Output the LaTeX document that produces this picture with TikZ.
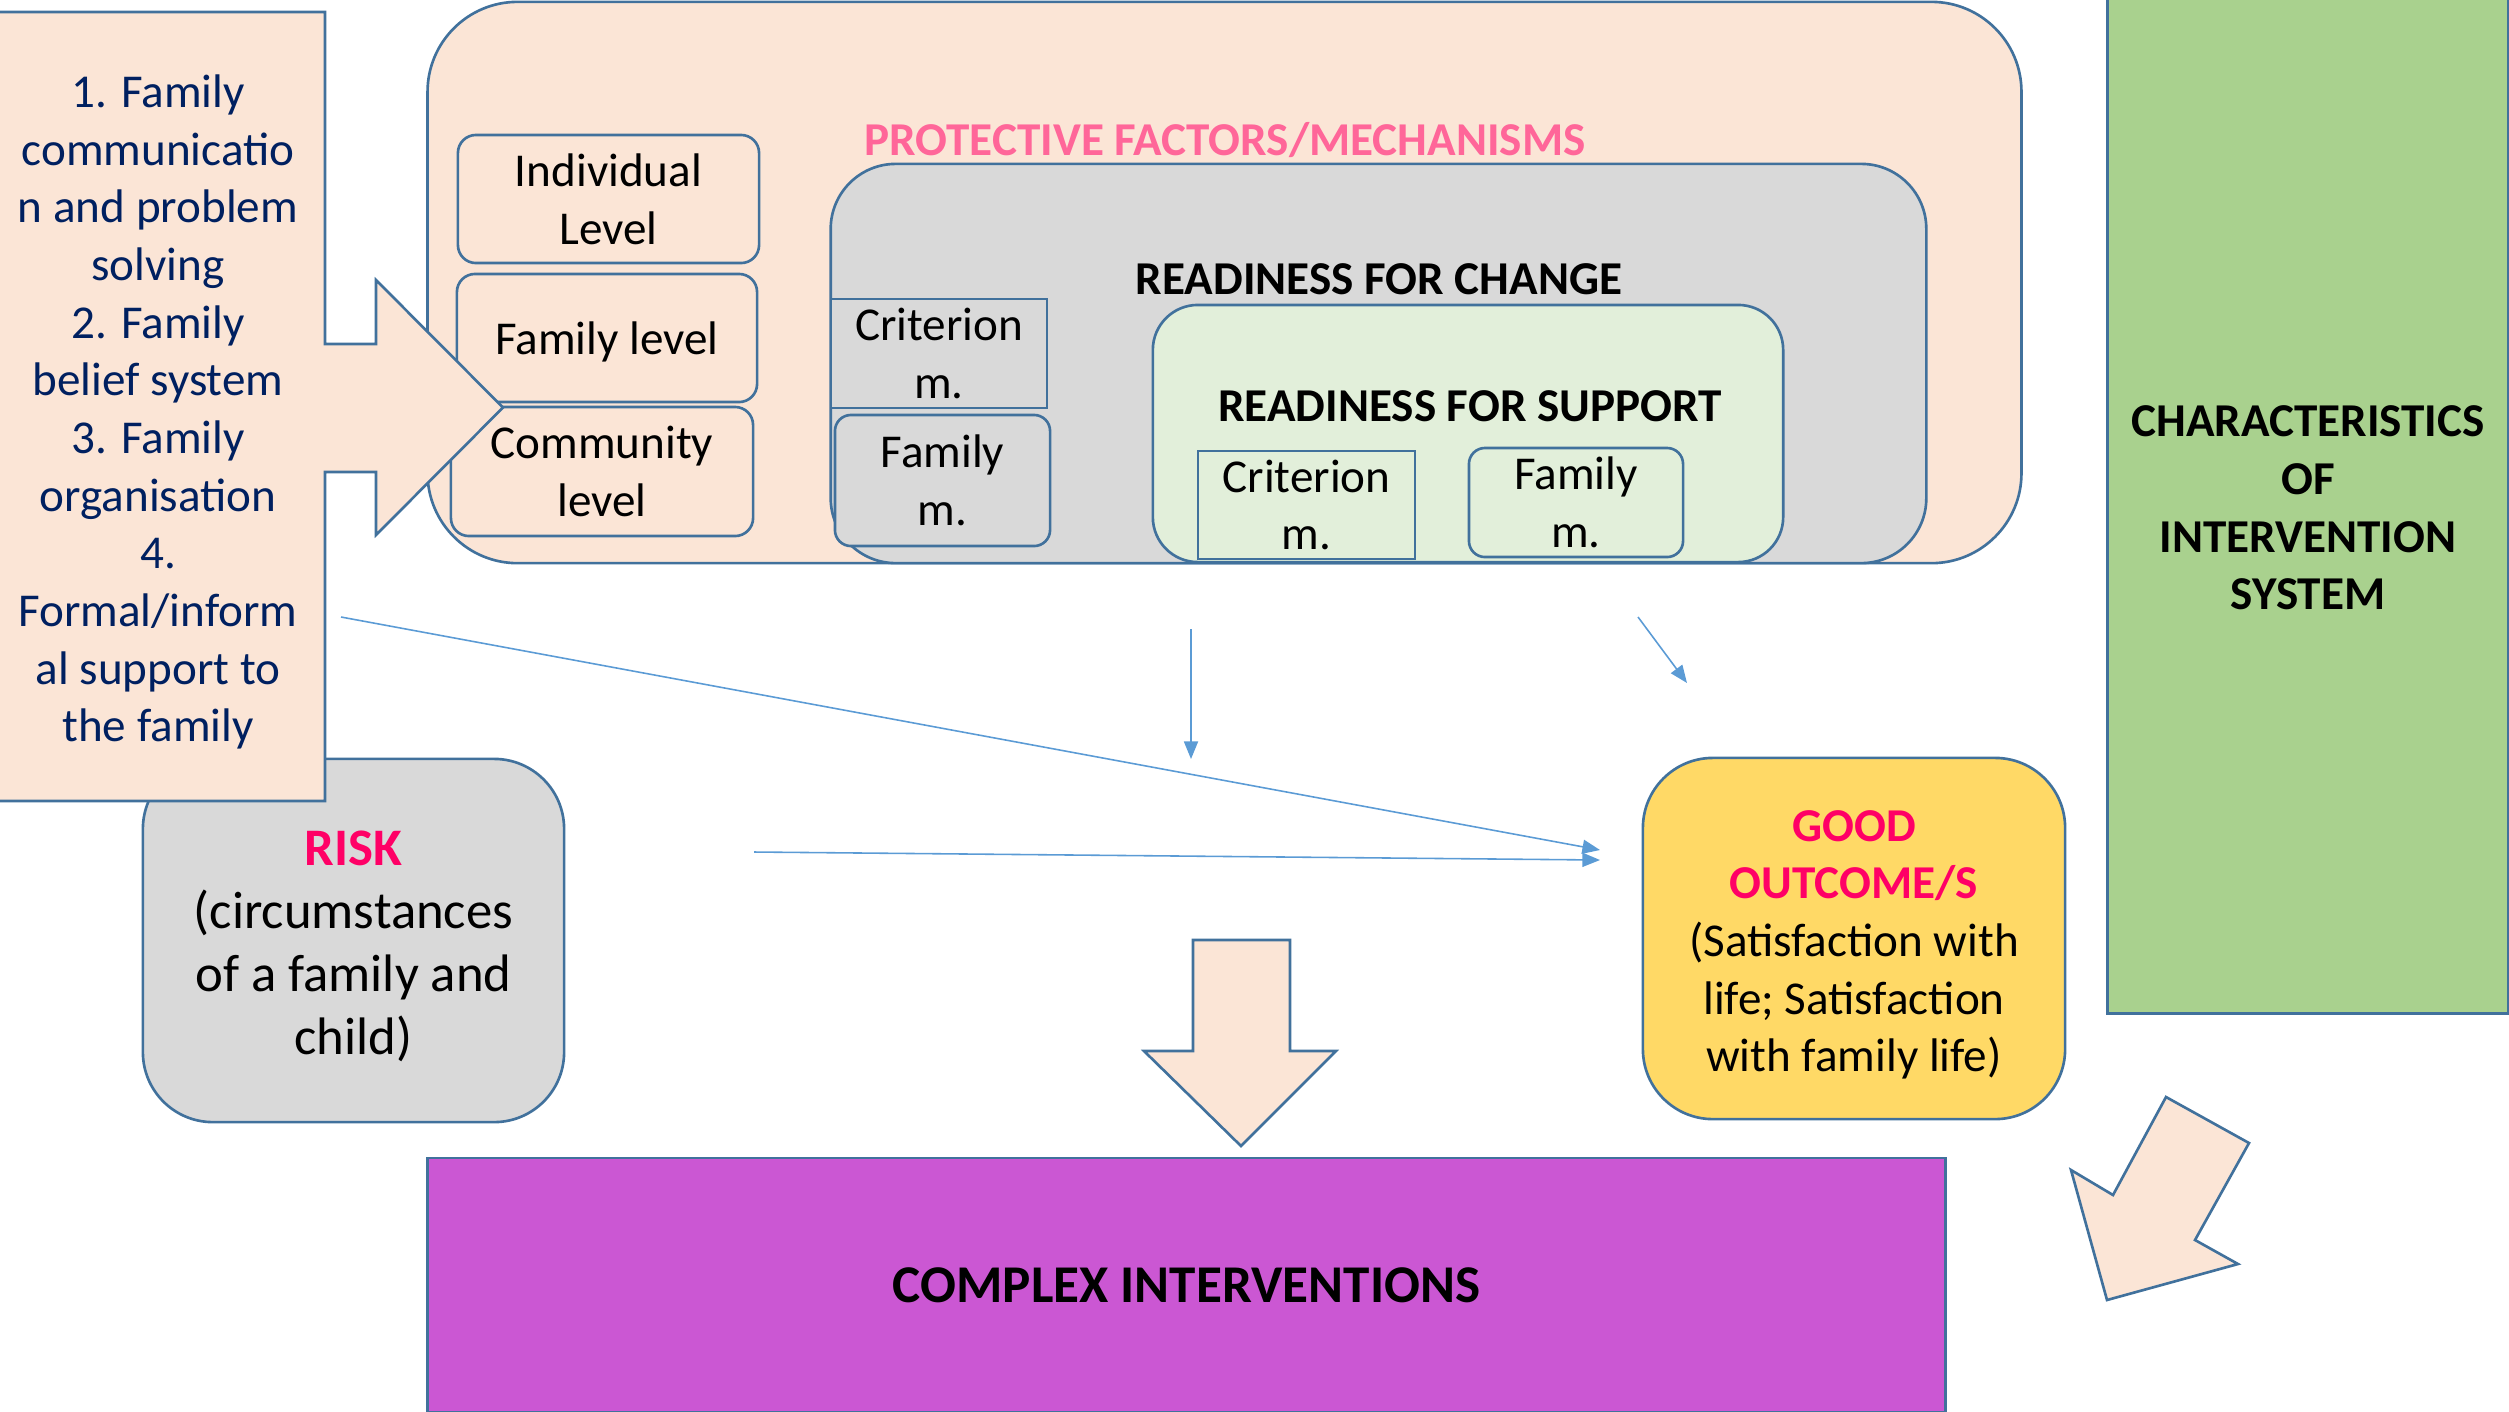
\documentclass[tikz,border=0pt]{standalone}
\usepackage{fontspec}
\setmainfont{Carlito}
\usepackage{xcolor}
\usetikzlibrary{arrows.meta}

\definecolor{peach}{HTML}{FBE5D6}
\definecolor{lightgrey}{HTML}{D9D9D9}
\definecolor{palegreen}{HTML}{E2EFDA}
\definecolor{leafgreen}{HTML}{A9D18E}
\definecolor{gold}{HTML}{FFD966}
\definecolor{violet}{HTML}{CB57D3}
\definecolor{edge}{HTML}{41719C}
\definecolor{rosetext}{HTML}{FF6699}
\definecolor{hotpink}{HTML}{FF0066}
\definecolor{navy}{HTML}{002060}
\definecolor{linkblue}{HTML}{5B9BD5}

\newcommand{\bodysize}{\fontsize{13.4pt}{16.4pt}\selectfont}
\newcommand{\risksize}{\fontsize{15pt}{17.9pt}\selectfont}
\newcommand{\bigsize}{\fontsize{15.1pt}{18pt}\selectfont}

\begin{document}
\begin{tikzpicture}[x=0.01cm,y=-0.01cm,
  every node/.style={font=\bodysize, align=center, inner sep=0pt},
  box/.style={draw=edge, line width=0.75pt},
  link/.style={draw=linkblue, line width=0.45pt, -{Triangle[length=5pt,width=4pt]}}]
\clip (0,0) rectangle (2509,1411);

% protective factors frame
\node[box, fill=peach, rounded corners=0.9cm, minimum width=15.93cm, minimum height=5.61cm] (protect) at (1224.5,282.5) {};
\node[text=rosetext, font=\bodysize\bfseries] (protectlbl) at (1225,140) {PROTECTIVE FACTORS/MECHANISMS};
\node[box, fill=lightgrey, rounded corners=0.65cm, minimum width=10.95cm, minimum height=3.99cm] (change) at (1378.5,363.5) {};
\node[font=\bodysize\bfseries] (changelbl) at (1379,279) {READINESS FOR CHANGE};
\node[box, fill=palegreen, rounded corners=0.45cm, minimum width=6.30cm, minimum height=2.57cm] (support) at (1468,433.5) {};
\node[font=\bodysize\bfseries] (supportlbl) at (1470,406) {READINESS FOR SUPPORT};

\node[box, fill=lightgrey, minimum width=2.16cm, minimum height=1.09cm] (critA) at (939,353.5) {Criterion\\m.};
\node[box, fill=lightgrey, rounded corners=0.16cm, minimum width=2.15cm, minimum height=1.31cm] (famA) at (942.5,480.5) {Family\\m.};
\node[box, fill=palegreen, minimum width=2.17cm, minimum height=1.08cm] (critB) at (1306.5,505) {Criterion\\m.};
\node[box, fill=palegreen, rounded corners=0.16cm, minimum width=2.14cm, minimum height=1.09cm] (famB) at (1576,502.5) {Family\\m.};

\node[box, fill=peach, rounded corners=0.18cm, minimum width=3.01cm, minimum height=1.28cm] (indiv) at (608.5,199) {Individual\\Level};
\node[box, fill=peach, rounded corners=0.18cm, minimum width=3.00cm, minimum height=1.28cm, text depth=0pt] (famlvl) at (607,338) {Family level};
\node[box, fill=peach, rounded corners=0.18cm, minimum width=3.02cm, minimum height=1.29cm] (commun) at (602,471.5) {Community\\level};

% risk and outcome
\node[box, fill=lightgrey, rounded corners=0.7cm, minimum width=4.21cm, minimum height=3.63cm, font=\risksize] (risk) at (353.5,940.5)
  {\rule{0pt}{13.2pt}{\color{hotpink}\bfseries RISK}\\(circumstances\\of a family and\\child)};
\node[box, fill=gold, rounded corners=0.7cm, minimum width=4.22cm, minimum height=3.61cm] (outcome) at (1854,938.5)
  {\rule{0pt}{12.4pt}{\color{hotpink}\bfseries GOOD}\\{\color{hotpink}\bfseries OUTCOME/S}\\(Satisfaction with\\life; Satisfaction\\with family life)};

% left block arrow
\draw[box, fill=peach] (-10,12) -- (325,12) -- (325,344) -- (376,344) -- (376,280) -- (503,407.5)
  -- (376,535) -- (376,472) -- (325,472) -- (325,801) -- (-10,801) -- cycle;
\node[text=navy] (resil) at (158,412) {1. Family\\communicatio\\n and problem\\solving\\2. Family\\belief system\\3. Family\\organisation\\4.\\Formal/inform\\al support to\\the family};

\node[box, fill=leafgreen, minimum width=4.01cm, minimum height=10.16cm] (system) at (2308,505) {};
\node[font=\bodysize\bfseries] (systemlbl) at (2308,508) {CHARACTERISTICS\\OF\\INTERVENTION\\SYSTEM};
\node[box, fill=violet, minimum width=15.17cm, minimum height=2.54cm, font=\bigsize\bfseries] (complex) at (1186.5,1285)
  {COMPLEX INTERVENTIONS};

% block arrows towards interventions
\draw[box, fill=peach] (1193,940) -- (1290,940) -- (1290,1051) -- (1336,1051) -- (1241,1146) -- (1144,1051) -- (1193,1051) -- cycle;
\draw[box, fill=peach] (2166,1097) -- (2249,1143) -- (2195,1240) -- (2238,1264) -- (2107,1300) -- (2071,1170) -- (2113,1195) -- cycle;

% thin links
\coordinate (l1s) at (341,617);
\coordinate (l1e) at (1600,850);
\coordinate (l2s) at (754,852);
\coordinate (l2e) at (1600,860);
\coordinate (l3s) at (1191,629);
\coordinate (l3e) at (1191,759);
\coordinate (l4s) at (1638,617);
\coordinate (l4e) at (1687,683);
\draw[link] (l1s) -- (l1e);
\draw[link] (l2s) -- (l2e);
\draw[link] (l3s) -- (l3e);
\draw[link] (l4s) -- (l4e);
\end{tikzpicture}
\end{document}
